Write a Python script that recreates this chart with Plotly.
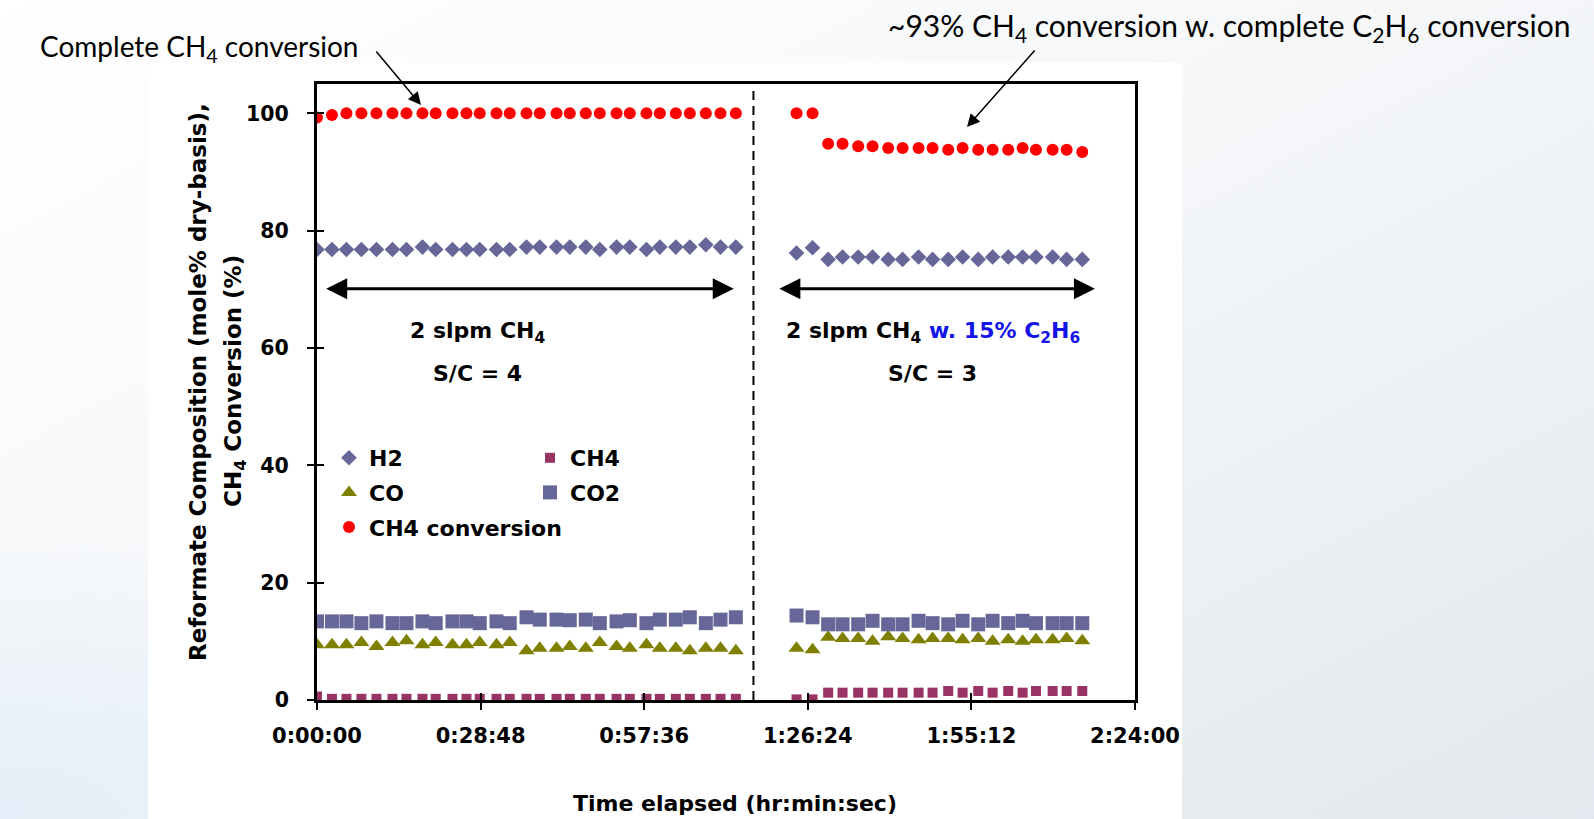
import base64
import plotly.graph_objects as go

# ---------------- data (time in seconds elapsed) ----------------
t_run1 = [0, 158, 311, 469, 628, 797, 945, 1114, 1254, 1431, 1579, 1719, 1896, 2036, 2213,
          2353, 2530, 2670, 2839, 2987, 3164, 3304, 3480, 3621, 3790, 3938, 4107, 4262, 4424]
h2_run1 = [76.8, 76.8, 76.8, 76.8, 76.8, 76.8, 76.8, 77.2, 76.8, 76.8, 76.8, 76.8, 76.8, 76.8, 77.2,
           77.2, 77.2, 77.2, 77.2, 76.8, 77.2, 77.2, 76.8, 77.2, 77.2, 77.2, 77.6, 77.2, 77.2]
ch4_run1 = [0.6, 0.2, 0.2, 0.2, 0.2, 0.2, 0.2, 0.2, 0.2, 0.2, 0.2, 0.2, 0.2, 0.2, 0.2,
            0.2, 0.2, 0.2, 0.2, 0.2, 0.2, 0.2, 0.2, 0.2, 0.2, 0.2, 0.2, 0.2, 0.2]
co_run1 = [9.4, 9.4, 9.4, 9.8, 9.1, 9.8, 10.1, 9.4, 9.8, 9.4, 9.4, 9.8, 9.4, 9.8, 8.4,
           8.8, 8.8, 9.1, 8.8, 9.8, 9.1, 8.8, 9.4, 8.8, 8.8, 8.4, 8.8, 8.8, 8.4]
co2_run1 = [13.4, 13.4, 13.4, 13.1, 13.4, 13.1, 13.1, 13.4, 13.1, 13.4, 13.4, 13.1, 13.4, 13.1, 14.1,
            13.7, 13.7, 13.6, 13.7, 13.1, 13.4, 13.6, 13.1, 13.7, 13.7, 14.1, 13.1, 13.7, 14.1]
conv_run1 = [99.3, 99.7, 100.0, 100.0, 100.0, 100.0, 100.0, 100.0, 100.0, 100.0, 100.0, 100.0, 100.0, 100.0, 100.0,
             100.0, 100.0, 100.0, 100.0, 100.0, 100.0, 100.0, 100.0, 100.0, 100.0, 100.0, 100.0, 100.0, 100.0]

t_run2 = [5065, 5234, 5399, 5551, 5716, 5868, 6033, 6185, 6354, 6502,
          6667, 6819, 6984, 7136, 7301, 7453, 7594, 7770, 7918, 8083]
h2_run2 = [76.2, 77.1, 75.1, 75.5, 75.5, 75.5, 75.1, 75.1, 75.5, 75.1,
           75.1, 75.5, 75.1, 75.5, 75.5, 75.5, 75.5, 75.5, 75.1, 75.1]
ch4_run2 = [0.1, 0.1, 1.25, 1.25, 1.25, 1.25, 1.25, 1.25, 1.25, 1.25,
            1.54, 1.25, 1.54, 1.25, 1.54, 1.25, 1.54, 1.54, 1.54, 1.54]
co_run2 = [8.8, 8.55, 10.7, 10.5, 10.5, 10.0, 10.8, 10.5, 10.25, 10.5,
           10.5, 10.25, 10.5, 10.0, 10.25, 10.0, 10.25, 10.25, 10.5, 10.1]
co2_run2 = [14.4, 14.1, 12.9, 12.9, 12.9, 13.5, 12.9, 12.9, 13.5, 13.1,
            12.9, 13.5, 12.9, 13.5, 13.1, 13.5, 13.1, 13.1, 13.1, 13.1]
conv_run2 = [100.0, 100.0, 94.8, 94.8, 94.4, 94.4, 94.1, 94.1, 94.1, 94.1,
             93.8, 94.1, 93.8, 93.8, 93.8, 94.1, 93.8, 93.8, 93.8, 93.4]

x_tickvals = [0, 1728, 3456, 5184, 6912, 8640]
x_ticktext = ["0:00:00", "0:28:48", "0:57:36", "1:26:24", "1:55:12", "2:24:00"]
y_tickvals = [0, 20, 40, 60, 80, 100]
switch_time = 4610          # dashed separator between the two runs
run1_span = [81, 4402]      # extent of double arrow, run 1
run2_span = [4868, 8217]    # extent of double arrow, run 2
span_level = 70.1

# ---------------- layout geometry (pixels) ----------------
W, H = 1594, 819
L, R, T, B = 317, 1135, 84, 700
PW, PH = R - L, B - T


def px_x(px):
    return (px - L) / PW


def px_y(py):
    return (B - py) / PH


BOLD = dict(family="DejaVu Sans", color="black", weight=700)

fig = go.Figure()

t_all = t_run1 + t_run2
series = [
    ("H2", h2_run1 + h2_run2, "diamond", "#666699", 12, "legend"),
    ("CH4", ch4_run1 + ch4_run2, "square", "#993366", 10, "legend2"),
    ("CO", co_run1 + co_run2, "triangle-up", "#808000", 14, "legend"),
    ("CO2", co2_run1 + co2_run2, "square", "#666699", 14, "legend2"),
    ("CH4 conversion", conv_run1 + conv_run2, "circle", "#ff0000", 12, "legend"),
]
for name, vals, sym, col, sz, leg in series:
    fig.add_trace(go.Scatter(
        x=t_all, y=vals, mode="markers", name=name, legend=leg, legendgroup=name,
        marker=dict(symbol=sym, color=col, size=sz, line=dict(width=0)),
    ))

# invisible trace for overlay axes (inside tick marks -> cross ticks)
fig.add_trace(go.Scatter(x=[None], y=[None], xaxis="x2", yaxis="y2", showlegend=False,
                         hoverinfo="skip", mode="markers"))

# gradient slide background
svg = (
    "<svg xmlns='http://www.w3.org/2000/svg' width='1594' height='819' preserveAspectRatio='none'>"
    "<defs><linearGradient id='g' x1='0' y1='0' x2='1' y2='1'>"
    "<stop offset='0' stop-color='#ffffff'/><stop offset='0.45' stop-color='#f5f7f9'/>"
    "<stop offset='1' stop-color='#e3e8ee'/></linearGradient>"
    "<radialGradient id='b' cx='0' cy='1' r='0.35'>"
    "<stop offset='0' stop-color='#e4eef8' stop-opacity='1'/>"
    "<stop offset='1' stop-color='#e4eef8' stop-opacity='0'/></radialGradient></defs>"
    "<rect width='1594' height='819' fill='url(#g)'/>"
    "<rect width='1594' height='819' fill='url(#b)'/></svg>"
)
src = "data:image/svg+xml;base64," + base64.b64encode(svg.encode()).decode()
fig.add_layout_image(dict(source=src, xref="paper", yref="paper", x=px_x(0), y=px_y(0),
                          sizex=W / PW, sizey=H / PH, sizing="stretch", layer="below",
                          xanchor="left", yanchor="top"))

shapes = [
    dict(type="rect", xref="paper", yref="paper", x0=px_x(148), x1=px_x(1182),
         y0=px_y(H + 5), y1=px_y(63), fillcolor="white", line=dict(width=0), layer="below"),
    dict(type="line", xref="x", yref="y", x0=switch_time, x1=switch_time, y0=0, y1=104,
         line=dict(color="black", width=2, dash="9px,6px")),
]

C = dict(xanchor="center", yanchor="middle")
annotations = []
# double arrows
for span in (run1_span, run2_span):
    annotations.append(dict(x=span[1], y=span_level, ax=span[0], ay=span_level,
                            xref="x", yref="y", axref="x", ayref="y", text="",
                            showarrow=True, arrowside="end+start", arrowhead=2,
                            arrowsize=1.4, arrowwidth=3, arrowcolor="black"))
# in-plot labels
annotations += [
    dict(x=1698, y=62.7, xref="x", yref="y", text="2 slpm CH<sub>4</sub>", showarrow=False,
         font=dict(size=22, **BOLD), **C),
    dict(x=1698, y=55.6, xref="x", yref="y", text="S/C = 4", showarrow=False,
         font=dict(size=22, **BOLD), **C),
    dict(x=6505, y=62.7, xref="x", yref="y",
         text="2 slpm CH<sub>4</sub> <span style='color:#1414e6'>w. 15% C<sub>2</sub>H<sub>6</sub></span>",
         showarrow=False, font=dict(size=22, **BOLD), **C),
    dict(x=6505, y=55.6, xref="x", yref="y", text="S/C = 3", showarrow=False,
         font=dict(size=22, **BOLD), **C),
]
# callouts
annotations += [
    dict(x=px_x(38), y=px_y(48), xref="paper", yref="paper", xanchor="left", yanchor="middle",
         text="Complete CH<sub>4</sub> conversion", showarrow=False,
         font=dict(family="Lato", size=28, color="black")),
    dict(x=px_x(421), y=px_y(105), xref="paper", yref="paper", ax=-46, ay=-55, text="",
         showarrow=True, arrowhead=2, arrowsize=1.7, arrowwidth=1.5, arrowcolor="black"),
    dict(x=px_x(1229), y=px_y(27), xref="paper", yref="paper",
         text="~93% CH<sub>4</sub> conversion w. complete C<sub>2</sub>H<sub>6</sub> conversion",
         showarrow=False, font=dict(family="Lato", size=30, color="black"), **C),
    dict(x=px_x(967), y=px_y(127), xref="paper", yref="paper", ax=69, ay=-78, text="",
         showarrow=True, arrowhead=2, arrowsize=1.7, arrowwidth=1.5, arrowcolor="black"),
]
# axis titles
annotations += [
    dict(x=px_x(198), y=px_y(382), xref="paper", yref="paper", textangle=-90,
         text="Reformate Composition (mole% dry-basis),", showarrow=False,
         font=dict(size=23, **BOLD), **C),
    dict(x=px_x(235), y=px_y(381), xref="paper", yref="paper", textangle=-90,
         text="CH<sub>4</sub> Conversion (%)", showarrow=False, font=dict(size=23, **BOLD), **C),
    dict(x=px_x(735), y=px_y(803), xref="paper", yref="paper",
         text="Time elapsed (hr:min:sec)", showarrow=False, font=dict(size=22, **BOLD), **C),
]

axis_common = dict(showgrid=False, zeroline=False)
fig.update_layout(
    width=W, height=H,
    margin=dict(l=L, r=W - R, t=T, b=H - B, pad=0),
    paper_bgcolor="white", plot_bgcolor="white",
    shapes=shapes, annotations=annotations,
    xaxis=dict(range=[0, 8640], tickvals=x_tickvals, ticktext=x_ticktext,
               showline=True, linecolor="black", linewidth=3, mirror=True,
               ticks="outside", ticklen=7, tickwidth=2, tickcolor="black",
               ticklabelstandoff=8, tickfont=dict(size=21, **BOLD), **axis_common),
    yaxis=dict(range=[0, 105], tickvals=y_tickvals,
               showline=True, linecolor="black", linewidth=3, mirror=True,
               ticks="outside", ticklen=7, tickwidth=2, tickcolor="black",
               ticklabelstandoff=14, tickfont=dict(size=20.5, **BOLD), **axis_common),
    xaxis2=dict(range=[0, 8640], overlaying="x", anchor="y2", side="bottom",
                tickvals=x_tickvals, ticks="inside", ticklen=7, tickwidth=2, tickcolor="black",
                showticklabels=False, showline=False, **axis_common),
    yaxis2=dict(range=[0, 105], overlaying="y", anchor="x2", side="left",
                tickvals=y_tickvals, ticks="inside", ticklen=7, tickwidth=2, tickcolor="black",
                showticklabels=False, showline=False, **axis_common),
    legend=dict(x=px_x(329), y=px_y(437), xanchor="left", yanchor="top",
                bgcolor="rgba(0,0,0,0)", font=dict(size=22, **BOLD),
                tracegroupgap=3, itemwidth=30),
    legend2=dict(x=px_x(530), y=px_y(437), xanchor="left", yanchor="top",
                 bgcolor="rgba(0,0,0,0)", font=dict(size=22, **BOLD),
                 tracegroupgap=3, itemwidth=30),
    showlegend=True,
)

fig.write_html("out.html", config={"displayModeBar": False},
               post_script="document.body.style.margin='0';document.body.style.overflow='hidden';")
